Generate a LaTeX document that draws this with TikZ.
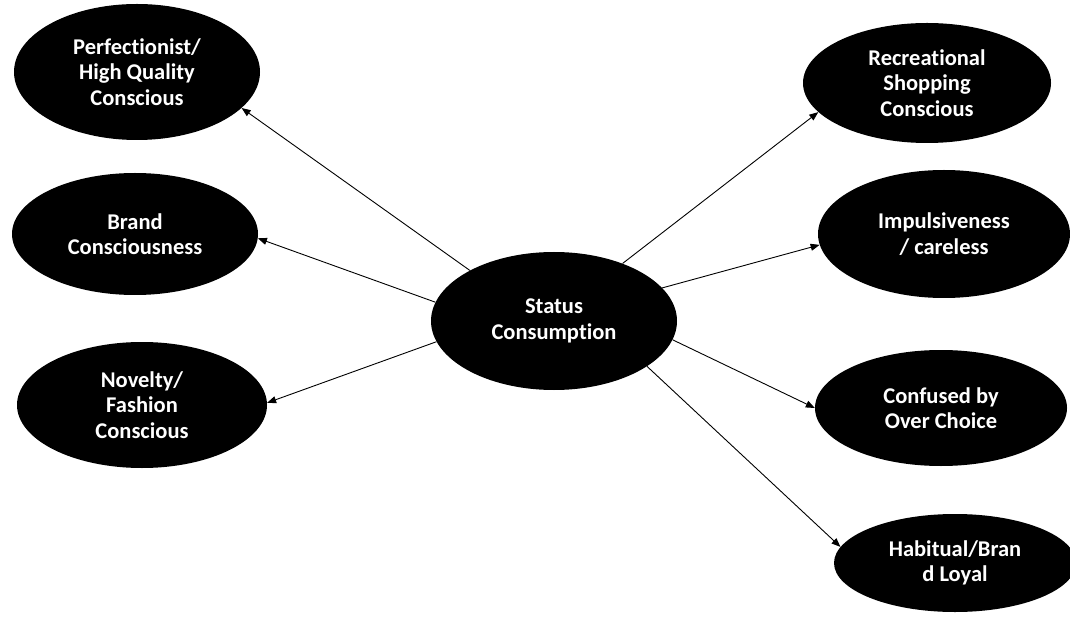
\documentclass[tikz,border=0pt]{standalone}
\usepackage{fontspec}
\setmainfont{Carlito}[Ligatures=NoCommon]
\usetikzlibrary{shapes.geometric,arrows.meta}
\begin{document}
\begin{tikzpicture}[x=1pt,y=-1pt,
  bubble/.style={ellipse,fill=black,text=white,inner sep=0pt,align=center,
    font=\fontsize{22.5}{25.5}\selectfont\bfseries},
  link/.style={draw=black,line width=0.9pt,-{Triangle[length=9pt,width=7pt]}}]
\useasboundingbox (0,0) rectangle (1070,617);
\node[bubble,minimum width=246pt,minimum height=138pt] (c) at (554,321) {Status\\Consumption};
\node[bubble,minimum width=246pt,minimum height=136pt] (p) at (137,72) {Perfectionist/\\High Quality\\Conscious};
\node[bubble,minimum width=246pt,minimum height=122pt] (b) at (135,234) {Brand\\Consciousness};
\node[bubble,minimum width=250pt,minimum height=126pt] (n) at (142,405) {Novelty/\\Fashion\\Conscious};
\node[bubble,minimum width=248pt,minimum height=120pt] (r) at (927,83) {Recreational\\Shopping\\Conscious};
\node[bubble,minimum width=252pt,minimum height=128pt] (i) at (944,234) {Impulsiveness\\/ careless};
\node[bubble,minimum width=252pt,minimum height=116pt] (o) at (941,408) {Confused by\\Over Choice};
\node[bubble,minimum width=242pt,minimum height=98pt] (h) at (955,563) {Habitual/Bran\\d Loyal};
\draw[link] (c.149) -- (p.341);
\draw[link] (c.171) -- (b.358);
\draw[link] (c.190) -- (n.1);
\draw[link] (c.40) -- (r.195);
\draw[link] (c.17) -- (i.185);
\draw[link] (c.351) -- (o.180);
\draw[link] (c.334) -- (h.172);
\end{tikzpicture}
\end{document}
